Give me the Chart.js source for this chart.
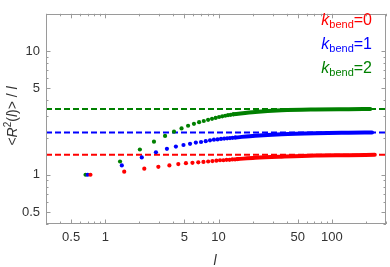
<!DOCTYPE html>
<html>
<head>
<meta charset="utf-8">
<script src="https://cdn.jsdelivr.net/npm/chart.js@4"></script>
<style>
  html, body { margin: 0; padding: 0; background: #fff; }
  #c { display: block; }
</style>
</head>
<body>
<canvas id="c" width="390" height="267"></canvas>
<script>
// individual points, n = 1..20
var lGreen = [0.67, 1.35, 2.02, 2.69, 3.37, 4.04, 4.71, 5.38, 6.06, 6.73, 7.40, 8.08, 8.75, 9.42, 10.10, 10.77, 11.44, 12.11, 12.79, 13.46];
var yGreen = [1.00, 1.28, 1.60, 1.85, 2.06, 2.23, 2.37, 2.49, 2.58, 2.66, 2.72, 2.78, 2.83, 2.88, 2.93, 2.97, 3.00, 3.03, 3.05, 3.08];
var lBlue = [0.70, 1.40, 2.10, 2.80, 3.50, 4.20, 4.90, 5.60, 6.30, 7.00, 7.70, 8.40, 9.10, 9.80, 10.50, 11.20, 11.90, 12.60, 13.30, 14.00];
var yBlue = [1.00, 1.19, 1.38, 1.52, 1.62, 1.69, 1.74, 1.78, 1.82, 1.84, 1.87, 1.90, 1.92, 1.93, 1.95, 1.96, 1.97, 1.98, 1.99, 2.00];
var lRed = [0.74, 1.47, 2.21, 2.94, 3.68, 4.41, 5.15, 5.88, 6.62, 7.35, 8.09, 8.82, 9.56, 10.29, 11.03, 11.76, 12.50, 13.23, 13.97, 14.70];
var yRed = [1.00, 1.06, 1.12, 1.16, 1.19, 1.22, 1.24, 1.25, 1.26, 1.27, 1.28, 1.29, 1.30, 1.31, 1.31, 1.32, 1.32, 1.33, 1.33, 1.34];

// dense tail (points merge into a band)
var tailLGreen = [13.46, 21, 36, 71, 140, 218];
var tailGreen = [3.08, 3.22, 3.32, 3.37, 3.39, 3.40];
var tailLBlue = [14.0, 21, 36, 71, 140, 226];
var tailBlue = [2.00, 2.07, 2.13, 2.17, 2.19, 2.20];
var tailLRed = [14.7, 21, 36, 71, 140, 239];
var tailRed = [1.34, 1.37, 1.40, 1.43, 1.44, 1.45];

// asymptotes (dashed)
var kbend = ['0', '1', '2'];
var limits = [1.45, 2.20, 3.40];
var colors = ['#ff0000', '#0000ff', '#008000'];

var xRange = [0.3, 300];
var yRange = [0.4, 20];
var xLabels = [0.5, 1, 5, 10, 50, 100];
var xMinor = [0.3, 0.4, 0.6, 0.7, 0.8, 0.9, 2, 3, 4, 6, 7, 8, 9, 20, 30, 40, 60, 70, 80, 90, 200, 300];
var yLabels = [0.5, 1, 5, 10];
var yMinor = [0.4, 0.6, 0.7, 0.8, 0.9, 2, 3, 4, 6, 7, 8, 9, 20];

var FONT = '"Liberation Sans", Arial, sans-serif';
var FRAME = '#9a9a9a';

function pts(xs, ys) {
    return xs.map(function(x, i) { return { x: x, y: ys[i] }; });
}

var series = [
    { pl: lRed, py: yRed, tl: tailLRed, ty: tailRed },
    { pl: lBlue, py: yBlue, tl: tailLBlue, ty: tailBlue },
    { pl: lGreen, py: yGreen, tl: tailLGreen, ty: tailGreen }
];

var datasets = [];
series.forEach(function(s, i) {
    datasets.push({
        data: [{ x: xRange[0], y: limits[i] }, { x: xRange[1], y: limits[i] }],
        showLine: true, borderColor: colors[i], borderWidth: 2, borderDash: [6, 3],
        pointRadius: 0, order: 3
    });
    datasets.push({
        data: pts(s.tl, s.ty),
        showLine: true, borderColor: colors[i], borderWidth: 4, borderCapStyle: 'round',
        cubicInterpolationMode: 'monotone', pointRadius: 0, order: 2
    });
    datasets.push({
        data: pts(s.pl, s.py),
        showLine: false, backgroundColor: colors[i], borderWidth: 0,
        pointRadius: 2.1, order: 1
    });
});

var framePlugin = {
    id: 'frame',
    afterDraw: function(chart) {
        var ctx = chart.ctx, a = chart.chartArea;
        var xs = chart.scales.x, ys = chart.scales.y;
        ctx.save();
        ctx.strokeStyle = FRAME;
        ctx.lineWidth = 1;
        ctx.strokeRect(Math.round(a.left) + 0.5, Math.round(a.top) + 0.5,
            Math.round(a.right - a.left) - 1, Math.round(a.bottom - a.top) - 1);
        ctx.beginPath();
        function xt(v, len) {
            var p = Math.round(xs.getPixelForValue(v)) + 0.5;
            ctx.moveTo(p, a.bottom); ctx.lineTo(p, a.bottom - len);
            ctx.moveTo(p, a.top); ctx.lineTo(p, a.top + len);
        }
        function yt(v, len) {
            var p = Math.round(ys.getPixelForValue(v)) + 0.5;
            ctx.moveTo(a.left, p); ctx.lineTo(a.left + len, p);
            ctx.moveTo(a.right, p); ctx.lineTo(a.right - len, p);
        }
        xLabels.forEach(function(v) { xt(v, 4.5); });
        xMinor.forEach(function(v) { xt(v, 2.5); });
        yLabels.forEach(function(v) { yt(v, 4.5); });
        yMinor.forEach(function(v) { yt(v, 2.5); });
        ctx.stroke();

        // axis titles
        ctx.fillStyle = '#333';
        ctx.textBaseline = 'alphabetic';
        ctx.font = 'italic 14px ' + FONT;
        ctx.textAlign = 'center';
        ctx.fillText('l', 215, 265);

        // y title: <R²(l)> / l, rotated
        ctx.save();
        ctx.translate(17, 116);
        ctx.rotate(-Math.PI / 2);
        var parts = [
            { t: '<', f: '14px ' + FONT, dy: 0 },
            { t: 'R', f: 'italic 14px ' + FONT, dy: 0 },
            { t: '2', f: '10px ' + FONT, dy: -6 },
            { t: '(', f: '14px ' + FONT, dy: 0 },
            { t: 'l', f: 'italic 14px ' + FONT, dy: 0 },
            { t: ')>', f: '14px ' + FONT, dy: 0 },
            { t: ' / ', f: '14px ' + FONT, dy: 0 },
            { t: 'l', f: 'italic 14px ' + FONT, dy: 0 }
        ];
        var w = 0;
        parts.forEach(function(p) { ctx.font = p.f; w += ctx.measureText(p.t).width; });
        var x = -w / 2;
        ctx.textAlign = 'left';
        parts.forEach(function(p) {
            ctx.font = p.f;
            ctx.fillText(p.t, x, p.dy);
            x += ctx.measureText(p.t).width;
        });
        ctx.restore();

        // legend text
        kbend.forEach(function(k, i) {
            var base = 25 + i * 24;
            var segs = [
                { t: 'k', f: 'italic 16px ' + FONT, dy: 0 },
                { t: 'bend', f: '11px ' + FONT, dy: 3 },
                { t: '=' + k, f: '16px ' + FONT, dy: 0 }
            ];
            var tw = 0;
            segs.forEach(function(s) { ctx.font = s.f; tw += ctx.measureText(s.t).width; });
            var sx = 372 - tw;
            ctx.fillStyle = colors[i];
            ctx.textAlign = 'left';
            segs.forEach(function(s) {
                ctx.font = s.f;
                ctx.fillText(s.t, sx, base + s.dy);
                sx += ctx.measureText(s.t).width;
            });
        });
        ctx.restore();
    }
};

new Chart(document.getElementById('c'), {
    type: 'scatter',
    data: { datasets: datasets },
    options: {
        responsive: false,
        animation: false,
        devicePixelRatio: 1,
        layout: { padding: { top: 3, right: 4, left: 0, bottom: 0 } },
        plugins: { legend: { display: false }, tooltip: { enabled: false }, title: { display: false } },
        scales: {
            x: {
                type: 'logarithmic',
                min: xRange[0], max: xRange[1],
                grid: { display: false, drawTicks: false },
                border: { display: false },
                afterBuildTicks: function(s) { s.ticks = xLabels.map(function(v) { return { value: v }; }); },
                afterFit: function(s) { s.height = 43; },
                ticks: {
                    padding: 6, maxRotation: 0, autoSkip: false,
                    color: '#333', font: { family: FONT, size: 13 },
                    callback: function(v) { return String(v); }
                }
            },
            y: {
                type: 'logarithmic',
                min: yRange[0], max: yRange[1],
                grid: { display: false, drawTicks: false },
                border: { display: false },
                afterBuildTicks: function(s) { s.ticks = yLabels.map(function(v) { return { value: v }; }); },
                afterFit: function(s) { s.width = 46; },
                ticks: {
                    padding: 6, autoSkip: false,
                    color: '#333', font: { family: FONT, size: 13 },
                    callback: function(v) { return String(v); }
                }
            }
        }
    },
    plugins: [framePlugin]
});
</script>
</body>
</html>
